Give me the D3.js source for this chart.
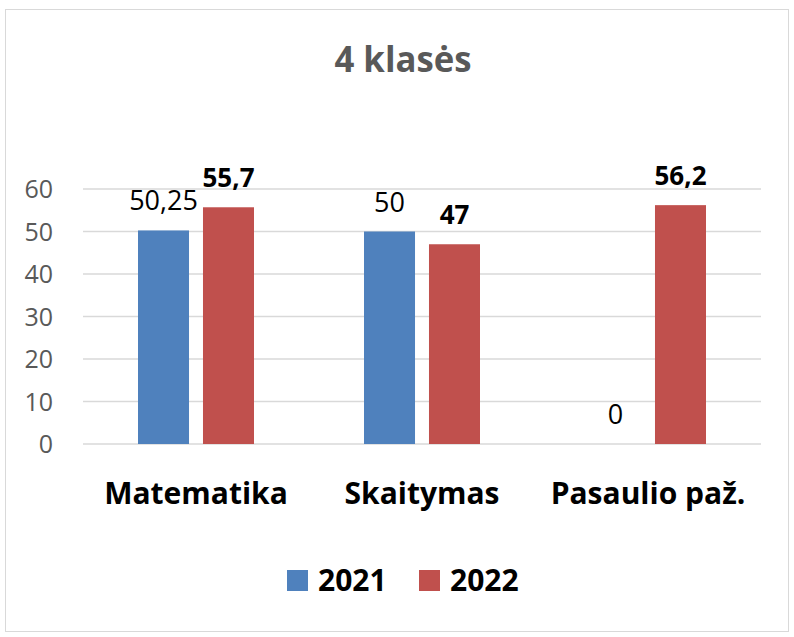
<!DOCTYPE html>
<html>
<head>
<meta charset="utf-8">
<script src="https://cdnjs.cloudflare.com/ajax/libs/d3/7.8.5/d3.min.js"></script>
<style>
  body { margin: 0; background: #fff; }
  text { font-family: "Open Sans", sans-serif; }
</style>
</head>
<body>
<div id="viz"></div>
<script>
var categories = ["Matematika", "Skaitymas", "Pasaulio paž."];
var years = ["2021", "2022"];
var values2021 = [50.25, 50, 0];
var values2022 = [55.7, 47, 56.2];
var yTicks = [0, 10, 20, 30, 40, 50, 60];
var colors = ["#4F81BD", "#C0504D"];

var width = 794, height = 637;
var plotLeft = 83, plotRight = 761, plotTop = 189, plotBottom = 444;

var svg = d3.select("#viz").append("svg")
    .attr("width", width)
    .attr("height", height);

// chart frame
svg.append("rect")
    .attr("x", 5.5).attr("y", 9.5)
    .attr("width", 783).attr("height", 622)
    .attr("fill", "#fff")
    .attr("stroke", "#d9d9d9");

var x = d3.scaleBand().domain(categories).range([plotLeft, plotRight]);
var x1 = d3.scaleBand().domain(years).range([0, 116]).paddingInner(0.215);
var y = d3.scaleLinear().domain([0, 60]).range([plotBottom, plotTop]);

// gridlines
svg.selectAll(".grid").data(yTicks).enter().append("line")
    .attr("x1", plotLeft).attr("x2", plotRight)
    .attr("y1", d => y(d)).attr("y2", d => y(d))
    .attr("stroke", "#d9d9d9").attr("stroke-width", 1.5);

// y labels
svg.selectAll(".ylab").data(yTicks).enter().append("text")
    .attr("x", 53).attr("y", d => y(d) + 9)
    .attr("text-anchor", "end")
    .style("font-size", "25px")
    .style("fill", "#595959")
    .text(d => d);

var series = [values2021, values2022];
series.forEach(function (vals, si) {
  var g = svg.append("g");
  var data = categories.map((c, i) => ({ c: c, v: vals[i] }));
  g.selectAll("rect").data(data).enter().append("rect")
      .attr("x", d => x(d.c) + 55 + x1(years[si]))
      .attr("width", x1.bandwidth())
      .attr("y", d => y(d.v))
      .attr("height", d => plotBottom - y(d.v))
      .attr("fill", colors[si]);
  g.selectAll("text").data(data).enter().append("text")
      .attr("x", d => x(d.c) + 55 + x1(years[si]) + x1.bandwidth() / 2)
      .attr("y", d => y(d.v) - 20)
      .attr("text-anchor", "middle")
      .style("font-size", si === 1 ? "26px" : "27px")
      .style("font-weight", si === 1 ? "bold" : "normal")
      .style("fill", "#000")
      .text(d => String(d.v).replace(".", ","));
});

// category labels
svg.selectAll(".cat").data(categories).enter().append("text")
    .attr("x", d => x(d) + x.bandwidth() / 2)
    .attr("y", 504)
    .attr("text-anchor", "middle")
    .style("font-size", "30px")
    .style("font-weight", "bold")
    .style("fill", "#000")
    .text(d => d);

// title
svg.append("text")
    .attr("x", 403).attr("y", 72)
    .attr("text-anchor", "middle")
    .attr("textLength", 137)
    .attr("lengthAdjust", "spacingAndGlyphs")
    .style("font-size", "36px")
    .style("font-weight", "bold")
    .style("fill", "#595959")
    .text("4 klasės");

// legend
var legendX = [287, 419];
years.forEach(function (yr, i) {
  svg.append("rect")
      .attr("x", legendX[i]).attr("y", 570)
      .attr("width", 21).attr("height", 21)
      .attr("fill", colors[i]);
  svg.append("text")
      .attr("x", legendX[i] + 31).attr("y", 591)
      .style("font-size", "30px")
      .style("font-weight", "bold")
      .style("fill", "#000")
      .text(yr);
});
</script>
</body>
</html>
